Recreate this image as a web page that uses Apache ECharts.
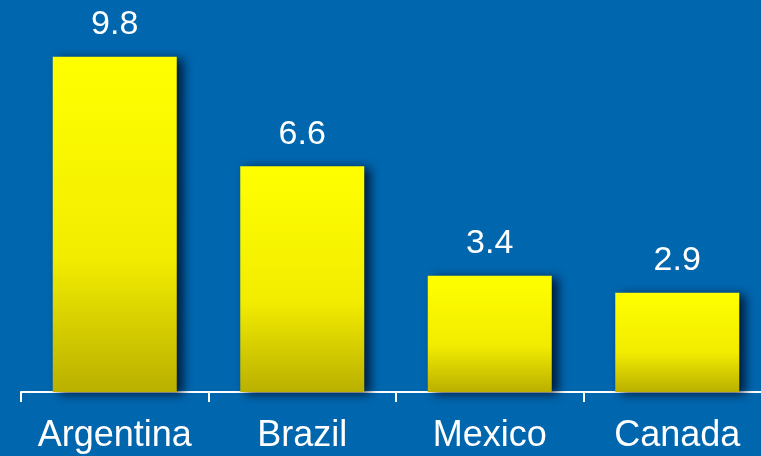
<!DOCTYPE html>
<html>
<head>
<meta charset="utf-8">
<style>
  html, body { margin: 0; padding: 0; background: #0066ae; overflow: hidden; width: 761px; height: 456px; }
  #chart { width: 800px; height: 456px; }
</style>
<script src="https://cdn.jsdelivr.net/npm/echarts@6/dist/echarts.min.js"></script>
</head>
<body>
<div id="chart"></div>
<script>
const countries = ['Argentina', 'Brazil', 'Mexico', 'Canada'];
const values = [9.8, 6.6, 3.4, 2.9];

// The plot runs past the right edge of the visible page, so the drawing
// surface is a little wider than the window and the overflow is clipped.
const chart = echarts.init(document.getElementById('chart'));
chart.setOption({
  backgroundColor: '#0066ae',
  animation: false,
  grid: { left: 21, width: 750, top: 50, bottom: 64 },
  xAxis: {
    type: 'category',
    data: countries,
    axisLine: { lineStyle: { color: '#ffffff', width: 2 } },
    axisTick: { show: true, interval: 0, length: 10, lineStyle: { color: '#ffffff', width: 2 } },
    axisLabel: {
      interval: 0,
      color: '#ffffff',
      fontFamily: 'Liberation Sans, Arial, sans-serif',
      fontSize: 36,
      margin: 26
    }
  },
  yAxis: {
    type: 'value',
    min: 0,
    max: 10,
    show: false
  },
  series: [{
    type: 'bar',
    data: values,
    barWidth: 124,
    itemStyle: {
      color: new echarts.graphic.LinearGradient(0, 0, 0, 1, [
        { offset: 0, color: '#ffff00' },
        { offset: 0.6, color: '#f2ec00' },
        { offset: 1, color: '#bab000' }
      ]),
      shadowColor: 'rgba(0, 10, 35, 0.85)',
      shadowBlur: 10,
      shadowOffsetX: 6,
      shadowOffsetY: 2
    },
    label: {
      show: true,
      position: 'top',
      distance: 15,
      color: '#ffffff',
      fontFamily: 'Liberation Sans, Arial, sans-serif',
      fontSize: 34
    }
  }]
});
</script>
</body>
</html>
